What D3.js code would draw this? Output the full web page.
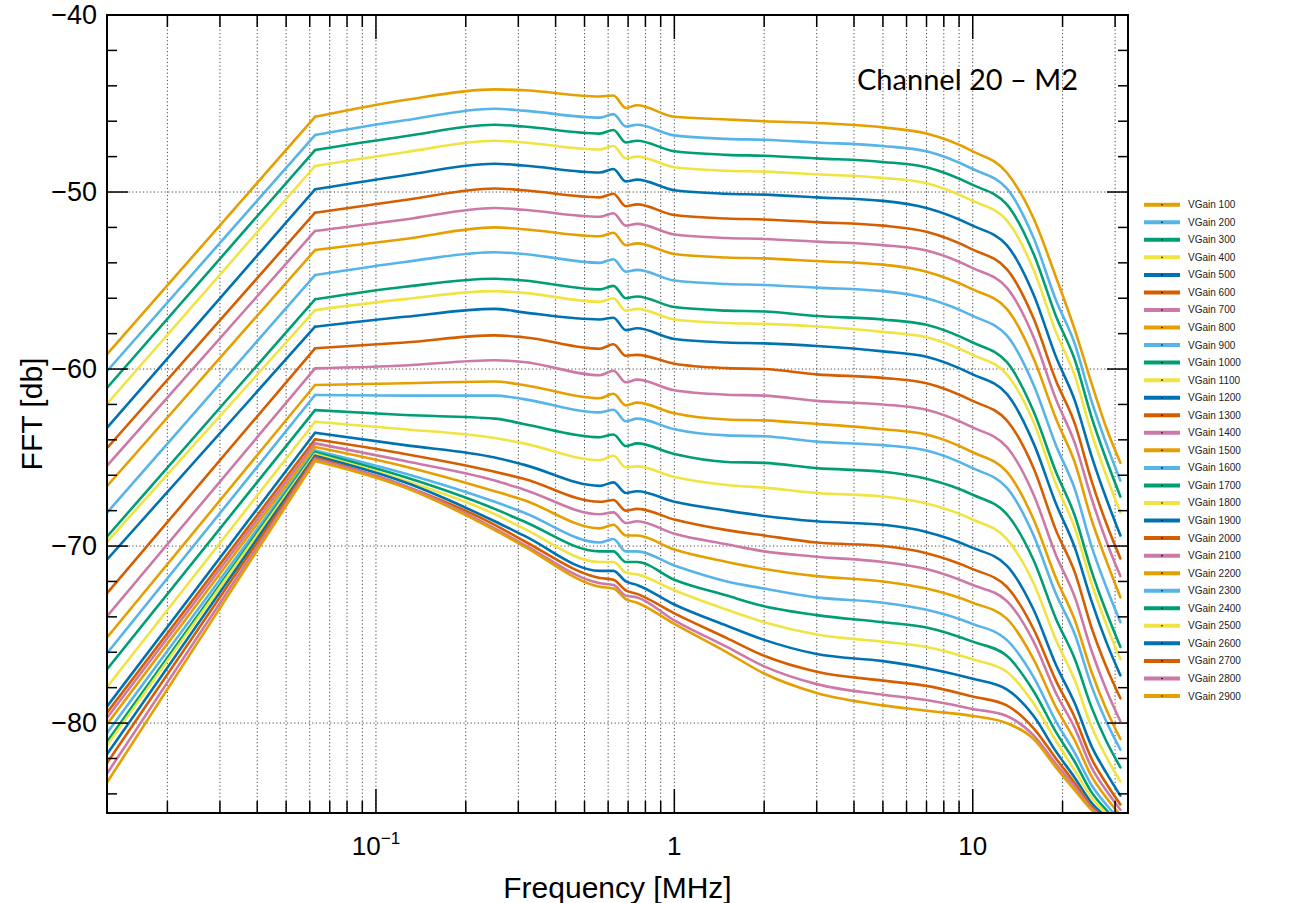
<!DOCTYPE html>
<html>
<head>
<meta charset="utf-8">
<script src="https://cdn.jsdelivr.net/npm/d3@7"></script>
<style>
  body { margin: 0; background: #fff; }
  svg { display: block; font-family: "Liberation Sans", Arial, sans-serif; }
</style>
</head>
<body>
<div id="chart"></div>
<script>
// frequency bins (MHz)
const freqs = [0.0125, 0.0625, 0.125, 0.25, 0.3125, 0.5625, 0.625, 0.6875, 0.75, 1, 1.5, 2, 3, 5, 7, 10, 13, 16, 19, 22, 25, 28, 31.25];

const gains = [100, 200, 300, 400, 500, 600, 700, 800, 900, 1000, 1100, 1200, 1300, 1400, 1500,
  1600, 1700, 1800, 1900, 2000, 2100, 2200, 2300, 2400, 2500, 2600, 2700, 2800, 2900];

const colors = ["#E69F00", "#56B4E9", "#009E73", "#F0E442", "#0072B2", "#D55E00", "#CC79A7"];

// FFT [db], one row per VGain, same order as freqs
const fftDb = [
  [-59.2, -45.75, -44.8, -44.2, -44.25, -44.6, -44.55, -45.25, -45.1, -45.75, -45.9, -46.0, -46.1, -46.35, -46.7, -47.7, -48.9, -51.5, -54.8, -57.8, -60.8, -63.3, -65.3],
  [-60.15, -46.78, -45.95, -45.3, -45.4, -45.8, -45.6, -46.3, -46.2, -46.8, -47.0, -47.05, -47.2, -47.4, -47.7, -48.7, -49.8, -52.6, -56.1, -58.6, -61.8, -64.2, -66.3],
  [-61.1, -47.63, -46.85, -46.2, -46.3, -46.7, -46.5, -47.2, -47.1, -47.7, -47.9, -47.95, -48.1, -48.3, -48.6, -49.6, -50.7, -53.5, -57.0, -59.5, -62.7, -65.1, -67.2],
  [-62.0, -48.53, -47.75, -47.1, -47.2, -47.6, -47.4, -48.1, -48.0, -48.6, -48.8, -48.85, -49.0, -49.2, -49.5, -50.5, -51.6, -54.4, -57.9, -60.4, -63.6, -66.0, -68.1],
  [-63.35, -49.85, -49.05, -48.4, -48.5, -48.9, -48.7, -49.4, -49.3, -49.9, -50.1, -50.15, -50.3, -50.5, -50.9, -51.9, -53.0, -55.8, -59.3, -61.8, -64.9, -67.3, -69.4],
  [-64.5, -51.17, -50.45, -49.8, -49.9, -50.3, -50.1, -50.8, -50.7, -51.3, -51.5, -51.55, -51.7, -51.9, -52.25, -53.25, -54.35, -57.15, -60.65, -63.1, -66.3, -68.7, -70.7],
  [-65.5, -52.2, -51.55, -50.9, -51.0, -51.4, -51.2, -51.9, -51.8, -52.4, -52.6, -52.65, -52.8, -53.0, -53.3, -54.3, -55.4, -58.2, -61.7, -64.2, -67.3, -69.7, -71.7],
  [-66.65, -53.28, -52.65, -52.0, -52.1, -52.5, -52.3, -53.0, -52.9, -53.5, -53.7, -53.75, -53.9, -54.1, -54.5, -55.5, -56.6, -59.4, -62.8, -65.3, -68.5, -70.8, -72.9],
  [-68.15, -54.69, -53.95, -53.4, -53.5, -54.0, -53.8, -54.5, -54.4, -55.0, -55.2, -55.25, -55.4, -55.6, -56.0, -57.0, -58.1, -60.9, -64.3, -66.8, -70.0, -72.3, -74.3],
  [-69.5, -56.06, -55.35, -54.9, -55.0, -55.5, -55.3, -56.0, -55.9, -56.5, -56.7, -56.75, -57.0, -57.2, -57.5, -58.5, -59.6, -62.4, -65.8, -68.3, -71.4, -73.7, -75.7],
  [-69.8, -56.67, -56.05, -55.6, -55.7, -56.2, -56.0, -56.7, -56.6, -57.2, -57.4, -57.45, -57.6, -57.9, -58.2, -59.2, -60.3, -63.0, -66.5, -69.0, -72.1, -74.4, -76.4],
  [-70.8, -57.61, -57.05, -56.6, -56.8, -57.2, -57.1, -57.8, -57.7, -58.3, -58.5, -58.55, -58.7, -59.0, -59.3, -60.3, -61.4, -64.2, -67.6, -70.1, -73.1, -75.4, -77.3],
  [-72.7, -58.83, -58.5, -58.1, -58.2, -58.85, -58.6, -59.25, -59.2, -59.7, -59.95, -60.0, -60.3, -60.5, -60.8, -61.8, -62.9, -65.6, -69.1, -71.5, -74.6, -76.8, -78.6],
  [-74.0, -59.96, -59.8, -59.5, -59.6, -60.35, -60.1, -60.75, -60.6, -61.2, -61.45, -61.5, -61.8, -62.0, -62.3, -63.3, -64.4, -67.1, -70.5, -72.9, -75.9, -78.1, -79.9],
  [-75.2, -60.9, -60.8, -60.7, -60.9, -61.65, -61.4, -62.05, -61.9, -62.5, -62.85, -62.9, -63.1, -63.4, -63.7, -64.7, -65.8, -68.5, -71.8, -74.2, -77.1, -79.2, -80.9],
  [-76.1, -61.47, -61.5, -61.5, -61.7, -62.45, -62.3, -62.95, -62.8, -63.4, -63.75, -63.8, -64.1, -64.3, -64.6, -65.6, -66.7, -69.4, -72.7, -75.0, -77.9, -79.9, -81.5],
  [-77.0, -62.32, -62.6, -62.8, -63.1, -63.85, -63.7, -64.35, -64.2, -64.8, -65.25, -65.3, -65.6, -65.8, -66.2, -67.1, -68.2, -70.8, -74.1, -76.4, -79.1, -81.0, -82.5],
  [-78.0, -62.98, -63.4, -63.9, -64.2, -65.15, -64.9, -65.55, -65.5, -66.1, -66.55, -66.7, -67.0, -67.2, -67.6, -68.5, -69.6, -72.1, -75.3, -77.6, -80.2, -81.9, -83.3],
  [-79.1, -63.6, -64.3, -65.0, -65.4, -66.6, -66.4, -67.0, -66.9, -67.5, -68.0, -68.3, -68.6, -68.8, -69.2, -70.1, -71.1, -73.6, -76.7, -78.9, -81.3, -82.8, -84.1],
  [-79.45, -63.97, -64.8, -65.8, -66.2, -67.5, -67.4, -68.0, -67.9, -68.5, -69.1, -69.4, -69.8, -70.0, -70.4, -71.3, -72.3, -74.7, -77.6, -79.7, -82.0, -83.4, -84.6],
  [-79.74, -64.2, -65.2, -66.3, -66.8, -68.2, -68.1, -68.7, -68.6, -69.3, -69.9, -70.3, -70.6, -70.9, -71.3, -72.2, -73.1, -75.4, -78.3, -80.3, -82.5, -83.8, -84.9],
  [-80.1, -64.4, -65.5, -66.9, -67.4, -69.0, -68.8, -69.4, -69.4, -70.2, -70.9, -71.3, -71.7, -72.0, -72.4, -73.2, -74.1, -76.4, -79.1, -81.0, -83.0, -84.2, -85.2],
  [-80.6, -64.6, -65.9, -67.5, -68.1, -69.8, -69.6, -70.3, -70.3, -71.1, -72.0, -72.4, -72.9, -73.2, -73.6, -74.4, -75.3, -77.4, -79.9, -81.7, -83.5, -84.6, -85.5],
  [-81.1, -64.7, -66.1, -67.9, -68.6, -70.3, -70.3, -70.9, -70.9, -71.9, -72.8, -73.4, -73.9, -74.3, -74.6, -75.4, -76.2, -78.2, -80.5, -82.2, -83.9, -84.9, -85.7],
  [-81.3, -64.8, -66.3, -68.2, -69.0, -70.9, -70.9, -71.5, -71.6, -72.5, -73.6, -74.3, -75.0, -75.4, -75.7, -76.4, -77.1, -78.9, -81.0, -82.7, -84.2, -85.1, -85.8],
  [-81.8, -64.9, -66.4, -68.6, -69.4, -71.4, -71.4, -72.0, -72.2, -73.3, -74.5, -75.3, -76.1, -76.5, -76.9, -77.5, -78.1, -79.6, -81.6, -83.1, -84.5, -85.3, -86.0],
  [-82.3, -65.0, -66.6, -68.8, -69.7, -71.8, -71.9, -72.5, -72.7, -73.8, -75.2, -76.2, -77.1, -77.6, -77.9, -78.5, -79.0, -80.3, -82.0, -83.4, -84.7, -85.4, -86.1],
  [-82.9, -65.1, -66.6, -69.0, -69.9, -72.1, -72.2, -72.8, -72.9, -74.2, -75.7, -76.8, -77.8, -78.4, -78.7, -79.2, -79.6, -80.7, -82.3, -83.6, -84.8, -85.5, -86.1],
  [-83.4, -65.2, -66.7, -69.1, -70.0, -72.3, -72.4, -73.0, -73.2, -74.4, -76.0, -77.2, -78.3, -79.0, -79.3, -79.6, -80.0, -80.9, -82.5, -83.8, -84.9, -85.6, -86.2]
];

const yTickValues = [-40, -50, -60, -70, -80];
const xTickLabels = [{v: 0.1, base: "10", exp: "\u22121"}, {v: 1, base: "1"}, {v: 10, base: "10"}];

const W = 1306, H = 903;
const margin = {top: 15, right: 178, bottom: 90, left: 107};
const width = W - margin.left - margin.right;
const height = H - margin.top - margin.bottom;

const x = d3.scaleLog().domain([0.01255, 33.14]).range([0, width]);
const y = d3.scaleLinear().domain([-85.08, -40]).range([height, 0]);

const svg = d3.select("#chart").append("svg")
  .attr("width", W)
  .attr("height", H);

const g = svg.append("g")
  .attr("transform", `translate(${margin.left}, ${margin.top})`);

// grid
const xGrid = x.ticks().filter(d => d > x.domain()[0] && d < x.domain()[1]);
g.append("g").selectAll("line")
  .data(xGrid)
  .join("line")
  .attr("x1", d => x(d)).attr("x2", d => x(d))
  .attr("y1", 0).attr("y2", height)
  .attr("stroke", "#444")
  .attr("stroke-width", 1)
  .attr("stroke-dasharray", "1.2,2.4");

g.append("g").selectAll("line")
  .data(yTickValues.filter(d => d > -85 && d < -40))
  .join("line")
  .attr("x1", 0).attr("x2", width)
  .attr("y1", d => y(d)).attr("y2", d => y(d))
  .attr("stroke", "#444")
  .attr("stroke-width", 1)
  .attr("stroke-dasharray", "1.2,2.4");

// curves: straight rise up to the first bin, then a smooth run through the rest
g.append("clipPath").attr("id", "clip")
  .append("rect").attr("width", width).attr("height", height);

const rise = d3.line()
  .x(d => x(d[0]))
  .y(d => y(d[1]));
const run = d3.line()
  .curve(d3.curveMonotoneX)
  .x(d => x(d[0]))
  .y(d => y(d[1]));

const curves = g.append("g").attr("clip-path", "url(#clip)")
  .selectAll("g")
  .data(fftDb.map(row => row.map((v, i) => [freqs[i], v])))
  .join("g")
  .attr("fill", "none")
  .attr("stroke", (d, i) => colors[i % colors.length])
  .attr("stroke-width", 2.6)
  .attr("stroke-linejoin", "round")
  .attr("stroke-linecap", "round");
curves.append("path").attr("d", d => rise(d.slice(0, 2)));
curves.append("path").attr("d", d => run(d.slice(1)));

// ticks (log x, both sides) and y ticks every 2 db (both sides)
const isMajorX = d => Math.abs(Math.log10(d) - Math.round(Math.log10(d))) < 1e-6;
const xt = g.append("g").attr("stroke", "#000").attr("stroke-width", 1.5);
xGrid.forEach(d => {
  const len = isMajorX(d) ? 24 : 12;
  xt.append("line").attr("x1", x(d)).attr("x2", x(d)).attr("y1", height).attr("y2", height - len);
  xt.append("line").attr("x1", x(d)).attr("x2", x(d)).attr("y1", 0).attr("y2", len);
});

const yMinor = d3.range(-84, -40, 2);
const yt = g.append("g").attr("stroke", "#000").attr("stroke-width", 1.5);
yMinor.forEach(d => {
  const len = d % 10 === 0 ? 21 : 10;
  yt.append("line").attr("x1", 0).attr("x2", len).attr("y1", y(d)).attr("y2", y(d));
  yt.append("line").attr("x1", width).attr("x2", width - len).attr("y1", y(d)).attr("y2", y(d));
});

// frame
g.append("rect")
  .attr("width", width).attr("height", height)
  .attr("fill", "none").attr("stroke", "#000").attr("stroke-width", 2);

// y labels
g.append("g").selectAll("text")
  .data(yTickValues)
  .join("text")
  .attr("x", -10)
  .attr("y", d => y(d) + 9)
  .attr("text-anchor", "end")
  .attr("font-size", 27)
  .text(d => d3.format("d")(d).replace("-", "\u2212"));

// x labels
const xl = g.append("g").selectAll("text")
  .data(xTickLabels)
  .join("text")
  .attr("x", d => x(d.v))
  .attr("y", height + 42)
  .attr("text-anchor", "middle")
  .attr("font-size", 26);
xl.append("tspan").text(d => d.base);
xl.filter(d => d.exp).append("tspan")
  .attr("font-size", 17)
  .attr("dy", -11)
  .text(d => d.exp);

// axis titles
g.append("text")
  .attr("x", width / 2)
  .attr("y", height + 85)
  .attr("text-anchor", "middle")
  .attr("font-size", 30)
  .text("Frequency [MHz]");

g.append("text")
  .attr("transform", `translate(${-65}, ${height / 2}) rotate(-90)`)
  .attr("text-anchor", "middle")
  .attr("font-size", 30)
  .text("FFT [db]");

// channel label
svg.append("text")
  .attr("x", 857)
  .attr("y", 90)
  .attr("font-family", "Lato, 'Open Sans', sans-serif")
  .attr("font-size", 29)
  .attr("fill", "#000")
  .text("Channel 20 \u2013 M2");

// legend
const ly = d3.scalePoint().domain(gains).range([204.7, 696]);
const leg = svg.append("g").selectAll("g")
  .data(gains)
  .join("g")
  .attr("transform", d => `translate(1144, ${ly(d)})`);
leg.append("line")
  .attr("x1", 0).attr("x2", 36)
  .attr("stroke", (d, i) => colors[i % colors.length])
  .attr("stroke-width", 4);
leg.append("circle")
  .attr("cx", 18).attr("r", 0.8).attr("fill", "#000");
leg.append("text")
  .attr("x", 44)
  .attr("y", 3.5)
  .attr("font-size", 10)
  .attr("fill", "#222")
  .text(d => "VGain " + d);
</script>
</body>
</html>
